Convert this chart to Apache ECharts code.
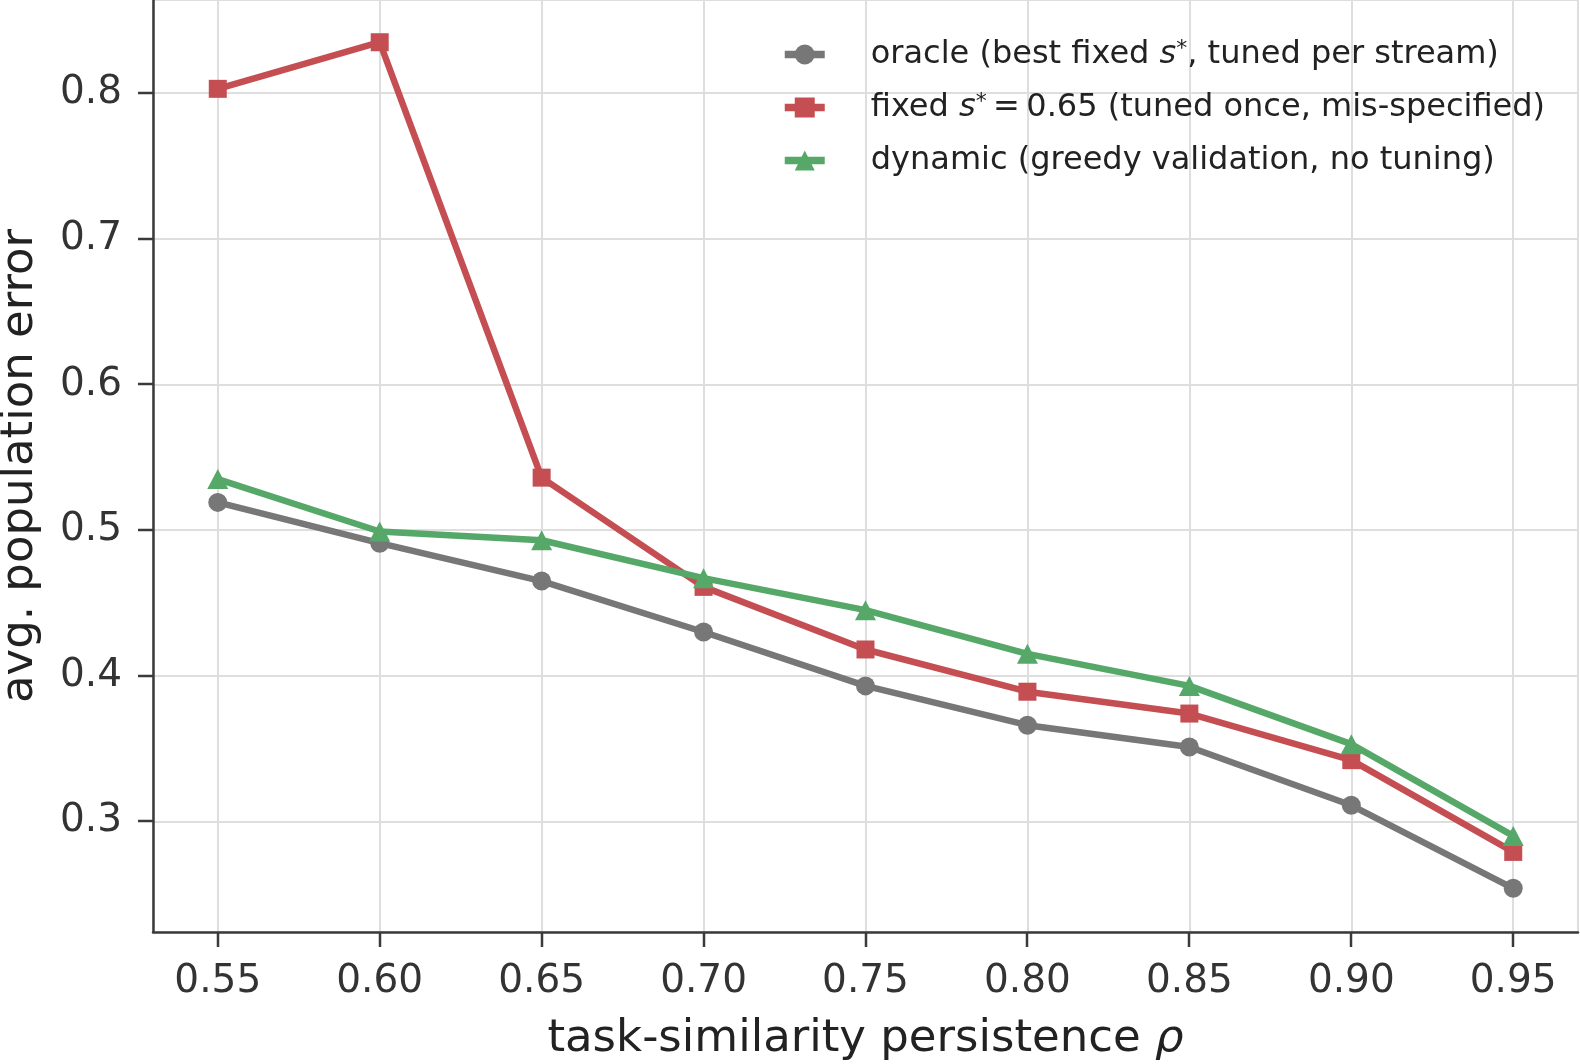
<!DOCTYPE html>
<html>
<head>
<meta charset="utf-8">
<script src="https://cdn.jsdelivr.net/npm/echarts@6/dist/echarts.min.js"></script>
<style>
  html, body { margin: 0; padding: 0; background: #fff; }
  #chart { width: 1580px; height: 1064px; }
</style>
</head>
<body>
<div id="chart"></div>
<script>
// persistence values on the x axis
const rho = [0.55, 0.60, 0.65, 0.70, 0.75, 0.80, 0.85, 0.90, 0.95];
// avg. population error per method
const oracle = [0.519, 0.491, 0.465, 0.430, 0.393, 0.366, 0.351, 0.311, 0.254];
const fixedS = [0.803, 0.835, 0.536, 0.461, 0.418, 0.389, 0.374, 0.342, 0.279];
const dynamic = [0.535, 0.499, 0.493, 0.467, 0.445, 0.415, 0.393, 0.353, 0.290];
// tick positions
const xTicks = [0.55, 0.60, 0.65, 0.70, 0.75, 0.80, 0.85, 0.90, 0.95];
const yTicks = [0.3, 0.4, 0.5, 0.6, 0.7, 0.8];
// axis ranges and tick spacing
const xRange = [0.53, 0.97];
const yRange = [0.224, 0.864];
const xStep = 0.05;
const yStep = 0.1;

const FONT = "DejaVu Sans";
const TICK_LEN = 15;
const pairs = (ys) => rho.map((x, i) => [x, ys[i]]);

const chart = echarts.init(document.getElementById("chart"), null, { renderer: "canvas" });

// main axes: spine + labels; grid lines come from the helper axes
const spine = { show: true, onZero: false, lineStyle: { color: "#3a3a3a", width: 2.5 } };
const gridOnly = {
  axisLine: { show: false },
  axisTick: { show: false },
  axisLabel: { show: false },
  splitLine: { show: true, lineStyle: { color: "#dedede", width: 2 } }
};

const legendNames = {
  oracle: "oracle (best fixed {it|s}{sup|*}, tuned per stream)",
  fixed: "fixed {it|s}{sup|*}\u2009=\u20090.65 (tuned once, mis-specified)",
  dynamic: "dynamic (greedy validation, no tuning)"
};

chart.setOption({
  animation: false,
  grid: { left: 153, right: 2, top: 0, bottom: 132, outerBoundsMode: "none" },
  legend: {
    orient: "vertical",
    left: 776,
    top: 33,
    itemWidth: 40,
    itemHeight: 25,
    itemGap: 20,
    data: ["oracle", "fixed", "dynamic"],
    formatter: (n) => legendNames[n],
    lineStyle: { width: 7.5 },
    textStyle: {
      fontFamily: FONT,
      fontSize: 32,
      lineHeight: 33,
      color: "#222",
      padding: [0, 0, 0, 41],
      rich: {
        it: { fontFamily: FONT, fontSize: 32, fontStyle: "italic", color: "#222", lineHeight: 33 },
        sup: { fontFamily: FONT, fontSize: 22, color: "#222", lineHeight: 22, verticalAlign: "top" }
      }
    }
  },
  xAxis: [
    {
      type: "value",
      position: "bottom",
      min: xRange[0],
      max: xRange[1],
      splitNumber: 9,
      minInterval: xStep,
      maxInterval: xStep,
      axisLine: spine,
      axisTick: { show: false },
      splitLine: { show: false },
      axisLabel: {
        showMinLabel: false,
        showMaxLabel: false,
        margin: 30,
        fontFamily: FONT,
        fontSize: 39,
        color: "#333",
        formatter: (v) => v.toFixed(2)
      },
      name: "task-similarity persistence {it|ρ}",
      nameLocation: "middle",
      nameGap: 85,
      nameTextStyle: {
        fontFamily: FONT,
        fontSize: 45,
        color: "#222",
        rich: {
          it: { fontFamily: FONT, fontSize: 45, fontStyle: "italic", color: "#222" }
        }
      }
    },
    {
      type: "value",
      position: "top",
      min: xRange[0],
      max: xRange[1],
      splitNumber: 9,
      minInterval: xStep,
      maxInterval: xStep,
      ...gridOnly
    }
  ],
  yAxis: [
    {
      type: "value",
      position: "left",
      min: yRange[0],
      max: yRange[1],
      splitNumber: 6,
      minInterval: yStep,
      maxInterval: yStep,
      axisLine: spine,
      axisTick: { show: false },
      splitLine: { show: false },
      axisLabel: {
        showMinLabel: false,
        showMaxLabel: false,
        margin: 31,
        fontFamily: FONT,
        fontSize: 39,
        color: "#333",
        formatter: (v) => v.toFixed(1)
      },
      name: "avg. population error",
      nameLocation: "middle",
      nameGap: 110,
      nameRotate: 90,
      nameTextStyle: { fontFamily: FONT, fontSize: 45, color: "#222" }
    },
    {
      type: "value",
      position: "right",
      min: yRange[0],
      max: yRange[1],
      splitNumber: 6,
      minInterval: yStep,
      maxInterval: yStep,
      ...gridOnly
    }
  ],
  series: [
    {
      name: "oracle",
      type: "line",
      data: pairs(oracle),
      symbol: "circle",
      symbolSize: 19,
      color: "#777777",
      lineStyle: { width: 6.5, color: "#777777" },
      itemStyle: { color: "#777777" },
      z: 2
    },
    {
      name: "fixed",
      type: "line",
      data: pairs(fixedS),
      symbol: "rect",
      symbolSize: 18,
      color: "#c44e52",
      lineStyle: { width: 6.5, color: "#c44e52" },
      itemStyle: { color: "#c44e52" },
      z: 3
    },
    {
      name: "dynamic",
      type: "line",
      data: pairs(dynamic),
      symbol: "triangle",
      symbolSize: [21, 20],
      color: "#55a868",
      lineStyle: { width: 6.5, color: "#55a868" },
      itemStyle: { color: "#55a868" },
      z: 4
    }
  ]
});

// outward tick marks, placed through the axes' own scales
const axisX0 = chart.convertToPixel({ xAxisIndex: 0 }, xRange[0]);
const axisY0 = chart.convertToPixel({ yAxisIndex: 0 }, yRange[0]);
const tickStyle = { stroke: "#3a3a3a", lineWidth: 2.5 };
const tickMarks = [];
xTicks.forEach((v) => {
  const px = Math.round(chart.convertToPixel({ xAxisIndex: 0 }, v));
  tickMarks.push({
    type: "line",
    silent: true,
    shape: { x1: px, y1: axisY0, x2: px, y2: axisY0 + TICK_LEN },
    style: tickStyle
  });
});
yTicks.forEach((v) => {
  const py = Math.round(chart.convertToPixel({ yAxisIndex: 0 }, v));
  tickMarks.push({
    type: "line",
    silent: true,
    shape: { x1: axisX0 - TICK_LEN, y1: py, x2: axisX0, y2: py },
    style: tickStyle
  });
});
chart.setOption({ graphic: tickMarks });
</script>
</body>
</html>
